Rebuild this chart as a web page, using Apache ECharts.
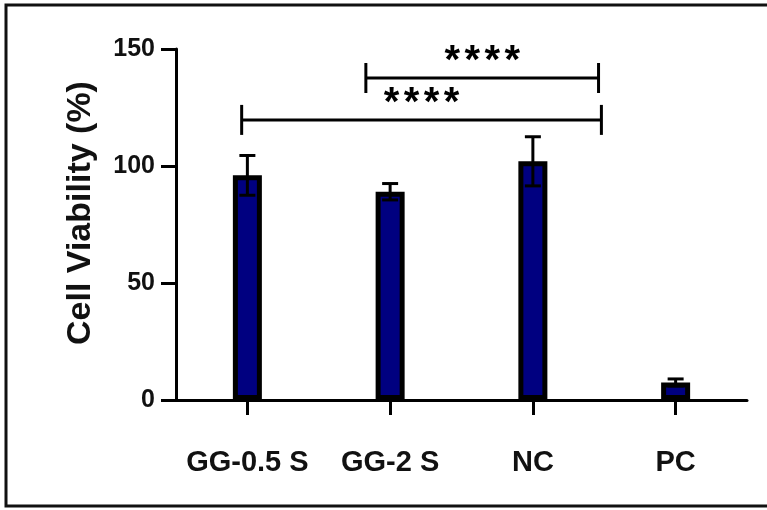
<!DOCTYPE html>
<html>
<head>
<meta charset="utf-8">
<script src="https://cdn.jsdelivr.net/npm/echarts@6/dist/echarts.min.js"></script>
<style>html,body{margin:0;padding:0;background:#fff}#c{width:767px;height:510px}</style>
</head>
<body>
<div id="c"></div>
<script>
// ---- data ----
const categories = ['GG-0.5 S', 'GG-2 S', 'NC', 'PC'];
const means = [96, 89, 102, 7.5];
const errors = [8.5, 3.5, 10.5, 1.5];
const yMin = 0, yMax = 150, yInterval = 50;
const yTitle = 'Cell Viability (%)';
// significance brackets (positions in category units)
const bracketFrom = [-0.04, 0.83];
const bracketTo = [2.48, 2.46];
const bracketY = [119.7, 137.6];
const bracketLabels = ['****', '****'];

const chart = echarts.init(document.getElementById('c'), null, {renderer: 'canvas'});
const FONT = '"Liberation Sans", Arial, sans-serif';

const errData = categories.map((c, i) => [i, means[i] - errors[i], means[i] + errors[i]]);
const brData = bracketFrom.map((f, i) => [f, bracketTo[i], bracketY[i], bracketLabels[i]]);

const option = {
  backgroundColor: '#fff',
  animation: false,
  grid: {left: 176, right: 20, top: 49, bottom: 110, containLabel: false},
  xAxis: [{
    type: 'category', data: categories,
    axisLine: {lineStyle: {color: '#000', width: 3}},
    axisTick: {show: true, length: 15, lineStyle: {color: '#000', width: 3}, alignWithLabel: true},
    axisLabel: {color: '#111', fontFamily: FONT, fontWeight: 'bold', fontSize: 29, margin: 48, interval: 0}
  }, {
    type: 'value', min: -0.5, max: 3.5, show: false
  }],
  yAxis: {
    type: 'value', min: yMin, max: yMax, interval: yInterval,
    splitLine: {show: false},
    axisLine: {show: true, onZero: false, lineStyle: {color: '#000', width: 3}},
    axisTick: {show: true, length: 15, lineStyle: {color: '#000', width: 3}},
    axisLabel: {color: '#111', fontFamily: FONT, fontWeight: 'bold', fontSize: 25, margin: 21}
  },
  series: [{
    type: 'bar', data: means, barWidth: 29,
    itemStyle: {color: '#000080', borderColor: '#000', borderWidth: 5},
    z: 2
  }, {
    type: 'custom', data: errData, z: 3,
    renderItem: function (params, api) {
      const x = api.value(0);
      const lo = api.coord([x, api.value(1)]);
      const hi = api.coord([x, api.value(2)]);
      const hw = 8;
      const st = {stroke: '#000', lineWidth: 3};
      return {type: 'group', children: [
        {type: 'line', shape: {x1: hi[0], y1: hi[1], x2: lo[0], y2: lo[1]}, style: st},
        {type: 'line', shape: {x1: hi[0] - hw, y1: hi[1], x2: hi[0] + hw, y2: hi[1]}, style: st},
        {type: 'line', shape: {x1: lo[0] - hw, y1: lo[1], x2: lo[0] + hw, y2: lo[1]}, style: st}
      ]};
    }
  }, {
    type: 'custom', data: brData, xAxisIndex: 1, z: 4,
    renderItem: function (params, api) {
      const a = api.coord([api.value(0), api.value(2)]);
      const b = api.coord([api.value(1), api.value(2)]);
      const cap = 15;
      const st = {stroke: '#000', lineWidth: 3};
      const chars = brData[params.dataIndex][3].split('');
      const cx = (a[0] + b[0]) / 2;
      const pitch = 20;
      const kids = [
        {type: 'line', shape: {x1: a[0], y1: a[1], x2: b[0], y2: b[1]}, style: st},
        {type: 'line', shape: {x1: a[0], y1: a[1] - cap, x2: a[0], y2: a[1] + cap}, style: st},
        {type: 'line', shape: {x1: b[0], y1: b[1] - cap, x2: b[0], y2: b[1] + cap}, style: st}
      ];
      chars.forEach(function (ch, k) {
        kids.push({type: 'text', x: cx + (k - (chars.length - 1) / 2) * pitch, y: a[1] - 16,
          style: {text: ch, fill: '#000', font: 'bold 40px ' + FONT, align: 'center', verticalAlign: 'middle'}});
      });
      return {type: 'group', children: kids};
    }
  }],
  graphic: [{
    type: 'polyline', silent: true,
    shape: {points: [[790, 5], [6, 5], [6, 506], [790, 506]]},
    style: {stroke: '#111', lineWidth: 3, fill: null}
  }, {
    type: 'text', x: 81, y: 213, rotation: Math.PI / 2,
    style: {text: yTitle, fill: '#111', font: 'bold 34px ' + FONT, align: 'center', verticalAlign: 'middle'}
  }]
};
chart.setOption(option);
</script>
</body>
</html>
